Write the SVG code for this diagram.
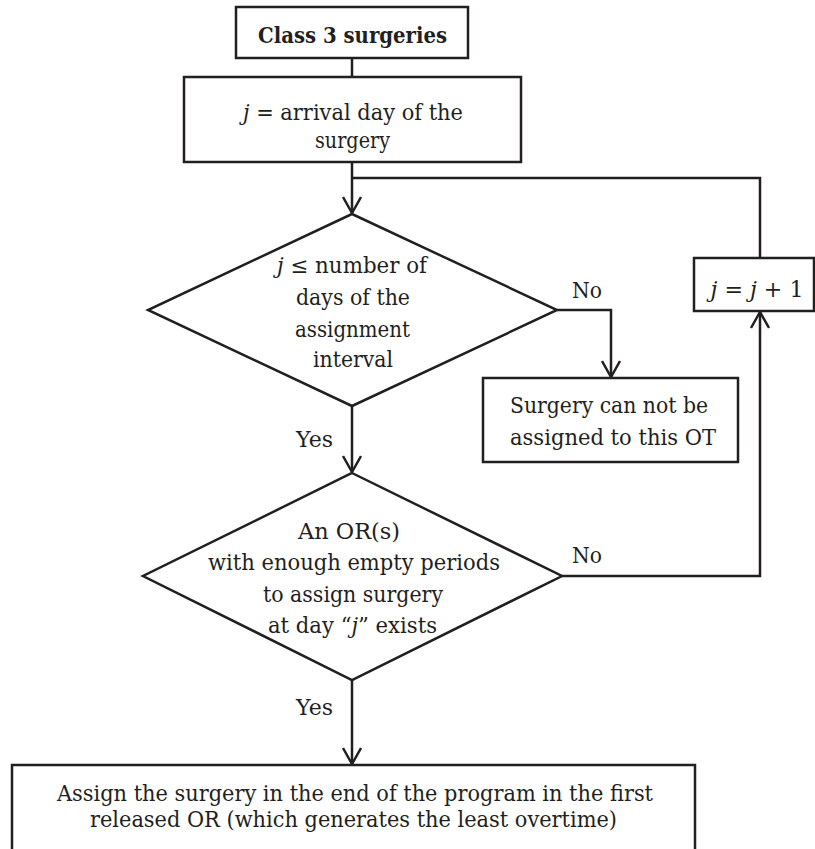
<svg xmlns="http://www.w3.org/2000/svg" width="815" height="849" viewBox="0 0 815 849">
<style>
.s{fill:#fff;stroke:#231f20;stroke-width:2.5}
.c{fill:none;stroke:#231f20;stroke-width:2.5}
text{font-family:'DejaVu Serif','Liberation Serif',serif;font-size:22px;fill:#231f20;text-anchor:middle}
.b{font-weight:bold}
.i{font-style:italic}
.l{text-anchor:start}
</style>
<defs>
<marker id="ah" markerWidth="20" markerHeight="20" viewBox="-17 -10 20 20" refX="0" refY="0" orient="auto" markerUnits="userSpaceOnUse">
<path d="M-16,-9 L0,0 L-16,9" fill="none" stroke="#231f20" stroke-width="2.5"/>
</marker>
</defs>
<g id="connectors">
<line class="c" x1="352" y1="58" x2="352" y2="77"/>
<line class="c" x1="352" y1="162" x2="352" y2="213" marker-end="url(#ah)"/>
<polyline class="c" points="352,178 760,178 760,258"/>
<polyline class="c" points="557,310 611,310 611,377" marker-end="url(#ah)"/>
<line class="c" x1="352" y1="406" x2="352" y2="472" marker-end="url(#ah)"/>
<polyline class="c" points="562,576 760,576 760,312" marker-end="url(#ah)"/>
<line class="c" x1="352" y1="680" x2="352" y2="764" marker-end="url(#ah)"/>
<text class="l" x="572" y="298" textLength="30" lengthAdjust="spacingAndGlyphs">No</text>
<text class="l" x="572" y="563" textLength="30" lengthAdjust="spacingAndGlyphs">No</text>
<text class="l" x="296" y="447" textLength="37" lengthAdjust="spacingAndGlyphs">Yes</text>
<text class="l" x="296" y="715" textLength="37" lengthAdjust="spacingAndGlyphs">Yes</text>
</g>
<g id="start">
<rect class="s" x="236" y="7" width="232" height="51"/>
<text class="b" x="352.5" y="43" textLength="189" lengthAdjust="spacingAndGlyphs">Class 3 surgeries</text>
</g>
<g id="init">
<rect class="s" x="184" y="77" width="337" height="85"/>
<text x="353" y="120" textLength="220" lengthAdjust="spacingAndGlyphs"><tspan class="i">j</tspan> = arrival day of the</text>
<text x="352.5" y="148" textLength="75" lengthAdjust="spacingAndGlyphs">surgery</text>
</g>
<g id="check-day">
<polygon class="s" points="352,214 557,310 352,406 148,310"/>
<text x="352" y="273" textLength="150" lengthAdjust="spacingAndGlyphs"><tspan class="i">j</tspan> ≤ number of</text>
<text x="353" y="305" textLength="114" lengthAdjust="spacingAndGlyphs">days of the</text>
<text x="352.5" y="337" textLength="115" lengthAdjust="spacingAndGlyphs">assignment</text>
<text x="353" y="367" textLength="80" lengthAdjust="spacingAndGlyphs">interval</text>
</g>
<g id="not-assigned">
<rect class="s" x="483" y="378" width="255" height="84"/>
<text x="609" y="413" textLength="198" lengthAdjust="spacingAndGlyphs">Surgery can not be</text>
<text x="613" y="445" textLength="206" lengthAdjust="spacingAndGlyphs">assigned to this OT</text>
</g>
<g id="increment">
<rect class="s" x="694" y="258" width="120" height="53"/>
<text x="757" y="297" textLength="93" lengthAdjust="spacingAndGlyphs"><tspan class="i">j</tspan> = <tspan class="i">j</tspan> + 1</text>
</g>
<g id="check-or">
<polygon class="s" points="352,473 562,576 352,680 143,576"/>
<text x="349" y="539" textLength="102" lengthAdjust="spacingAndGlyphs">An OR(s)</text>
<text x="354" y="570" textLength="292" lengthAdjust="spacingAndGlyphs">with enough empty periods</text>
<text x="353" y="602" textLength="180" lengthAdjust="spacingAndGlyphs">to assign surgery</text>
<text x="352.5" y="633" textLength="169" lengthAdjust="spacingAndGlyphs">at day “<tspan class="i">j</tspan>” exists</text>
</g>
<g id="assign">
<rect class="s" x="12" y="765" width="683" height="100"/>
<text x="355" y="801" textLength="596" lengthAdjust="spacingAndGlyphs">Assign the surgery in the end of the program in the first</text>
<text x="353.5" y="827" textLength="527" lengthAdjust="spacingAndGlyphs">released OR (which generates the least overtime)</text>
</g>
</svg>
